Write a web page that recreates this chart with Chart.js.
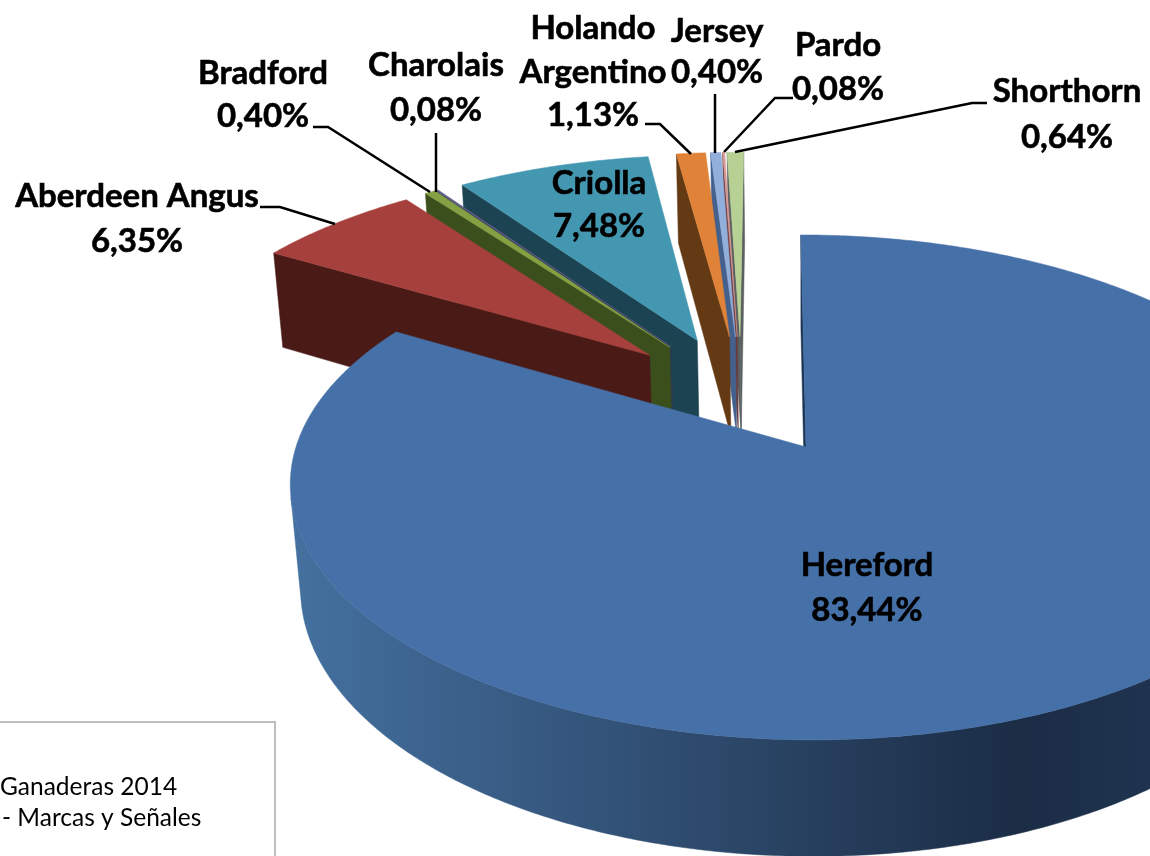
<!DOCTYPE html>
<html>
<head>
<meta charset="utf-8">
<title>Razas</title>
<script src="https://cdn.jsdelivr.net/npm/chart.js@4/dist/chart.umd.min.js"></script>
<style>
    html, body { margin: 0; padding: 0; background: #fff; overflow: hidden; }
    canvas { display: block; }
</style>
</head>
<body>
<canvas id="razasChart" width="1150" height="856"></canvas>
<script>
        // Chart data
        const categories = ['Hereford', 'Aberdeen Angus', 'Bradford', 'Charolais', 'Criolla', 'Holando Argentino', 'Jersey', 'Pardo', 'Shorthorn'];
        const shares = [83.44, 6.35, 0.40, 0.08, 7.48, 1.13, 0.40, 0.08, 0.64];
        const sliceColors = ['#4670A8', '#A5403D', '#84A042', '#5F5A84', '#4497B0', '#E08339', '#92AEDB', '#D89A97', '#B7D094'];
        const wallColors = ['#1C3554', '#4A1A17', '#3B4F1D', '#2A3A50', '#1C4352', '#643A15', '#44608C', '#6A3A3A', '#5A5F60'];
        const sourceLines = ['Ganaderas 2014', '- Marcas y Señales'];

        // Where each data label goes: centre x, centre y of every text line
        const labelSpots = [
            { x: 867, ys: [565, 610] },
            { x: 137, ys: [196, 241] },
            { x: 263, ys: [73, 116] },
            { x: 436, ys: [65, 110] },
            { x: 599, ys: [183, 226] },
            { x: 593, ys: [28, 72, 115] },
            { x: 717, ys: [31, 72] },
            { x: 838, ys: [45, 89] },
            { x: 1067, ys: [91, 137] }
        ];

        // Leader lines
        const leaders = [
            null,
            [[260, 207], [280, 207], [335, 224]],
            [[313, 127], [328, 127], [430, 192]],
            [[436, 133], [436, 192]],
            null,
            [[645, 124], [660, 124], [691, 154]],
            [[715, 94], [715, 153]],
            [[793, 98], [775, 98], [724, 152]],
            [[987, 103], [972, 103], [735, 152]]
        ];

        // Perspective of the disc, origin is the tip of the Hereford slice
        const view = { cx: 806, cy: 447, a: 510, b: 246, h: 106, k: 0.16, m: 0.02, skew: -6 };

        function project(x, y, z) {
            const d = 1 + view.k * y + view.m * z;
            return [view.cx + (view.a * x + view.skew * y) / d, view.cy - (view.b * y - view.h * z) / d];
        }

        function polyArea(pts) {
            let s = 0;
            pts.forEach((p, i) => {
                const q = pts[(i + 1) % pts.length];
                s += p[0] * q[1] - q[0] * p[1];
            });
            return s;
        }

        function fillPoly(ctx, pts, color) {
            ctx.beginPath();
            pts.forEach((p, i) => i ? ctx.lineTo(p[0], p[1]) : ctx.moveTo(p[0], p[1]));
            ctx.closePath();
            ctx.fillStyle = color;
            ctx.strokeStyle = color;
            ctx.lineWidth = 0.5;
            ctx.fill();
            ctx.stroke();
        }

        function heroWallFill(ctx) {
            const g = ctx.createLinearGradient(295, 0, 1150, 0);
            g.addColorStop(0, '#44709F');
            g.addColorStop(0.3, '#36587F');
            g.addColorStop(0.6, '#27405F');
            g.addColorStop(0.85, '#1B2C45');
            g.addColorStop(1, '#1F3350');
            return g;
        }

        // Draws the arcs of the pie as exploded 3D wedges from the angles the library worked out
        const pie3d = {
            id: 'pie3d',
            beforeDatasetDraw(chart, args) {
                const ctx = chart.ctx;
                const arcs = args.meta.data;
                const first = arcs[0];
                const midOf = el => (el.startAngle + el.endAngle) / 2;
                const e = first.options.offset / first.outerRadius;
                const base = [-e * Math.cos(midOf(first)), e * Math.sin(midOf(first))];

                ctx.save();
                for (let i = arcs.length - 1; i >= 0; i--) {
                    const el = arcs[i];
                    const mid = midOf(el);
                    const tip = [base[0] + e * Math.cos(mid), base[1] - e * Math.sin(mid)];
                    const steps = Math.max(2, Math.ceil((el.endAngle - el.startAngle) / 0.01));
                    const rim = [];
                    for (let s = 0; s <= steps; s++) {
                        const t = el.startAngle + (el.endAngle - el.startAngle) * s / steps;
                        rim.push([tip[0] + Math.cos(t), tip[1] - Math.sin(t)]);
                    }
                    const top = p => project(p[0], p[1], 0);
                    const low = p => project(p[0], p[1], 1);
                    const wall = i === 0 ? heroWallFill(ctx) : wallColors[i];

                    // Cut faces
                    const startFace = [top(tip), top(rim[0]), low(rim[0]), low(tip)];
                    const endFace = [top(rim[steps]), top(tip), low(tip), low(rim[steps])];
                    if (polyArea(startFace) < 0) fillPoly(ctx, startFace, wallColors[i]);
                    if (polyArea(endFace) < 0) fillPoly(ctx, endFace, wallColors[i]);

                    // Outer wall, only the runs that face the viewer
                    let run = [];
                    const flush = () => {
                        if (run.length > 1) {
                            fillPoly(ctx, run.map(top).concat(run.slice().reverse().map(low)), wall);
                        }
                        run = [];
                    };
                    for (let s = 0; s < steps; s++) {
                        const quad = [top(rim[s]), top(rim[s + 1]), low(rim[s + 1]), low(rim[s])];
                        if (polyArea(quad) < 0) {
                            if (!run.length) run.push(rim[s]);
                            run.push(rim[s + 1]);
                        } else {
                            flush();
                        }
                    }
                    flush();

                    // Top face
                    fillPoly(ctx, [top(tip)].concat(rim.map(top)), sliceColors[i]);
                }
                ctx.restore();
                return false;
            },
            afterDraw(chart) {
                const ctx = chart.ctx;
                ctx.save();

                // Leader lines
                ctx.strokeStyle = '#000';
                ctx.lineWidth = 2.5;
                leaders.forEach(pts => {
                    if (!pts) return;
                    ctx.beginPath();
                    pts.forEach((p, i) => i ? ctx.lineTo(p[0], p[1]) : ctx.moveTo(p[0], p[1]));
                    ctx.stroke();
                });

                // Data labels
                ctx.fillStyle = '#000';
                ctx.strokeStyle = '#000';
                ctx.lineWidth = 0.6;
                ctx.font = 'bold 33px Lato';
                ctx.textAlign = 'center';
                ctx.textBaseline = 'middle';
                categories.forEach((name, i) => {
                    const pct = shares[i].toFixed(2).replace('.', ',') + '%';
                    const lines = labelSpots[i].ys.length === 3 ? name.split(' ').concat(pct) : [name, pct];
                    lines.forEach((txt, j) => {
                        ctx.fillText(txt, labelSpots[i].x, labelSpots[i].ys[j]);
                        ctx.strokeText(txt, labelSpots[i].x, labelSpots[i].ys[j]);
                    });
                });

                // Source box, cut by the left edge of the page
                ctx.strokeStyle = '#BFBFBF';
                ctx.lineWidth = 2;
                ctx.strokeRect(-10, 722, 285, 150);
                ctx.fillStyle = '#000';
                ctx.font = '24.5px Lato';
                ctx.textAlign = 'left';
                ctx.textBaseline = 'alphabetic';
                ctx.fillText(sourceLines[0], 0, 795);
                ctx.fillText(sourceLines[1], 2, 826);
                ctx.restore();
            }
        };

        new Chart(document.getElementById('razasChart').getContext('2d'), {
            type: 'pie',
            data: {
                labels: categories,
                datasets: [{
                    data: shares,
                    backgroundColor: sliceColors,
                    borderWidth: 0,
                    offset: 98
                }]
            },
            options: {
                responsive: false,
                animation: false,
                plugins: {
                    legend: { display: false },
                    tooltip: { enabled: false }
                }
            },
            plugins: [pie3d]
        });
</script>
</body>
</html>
